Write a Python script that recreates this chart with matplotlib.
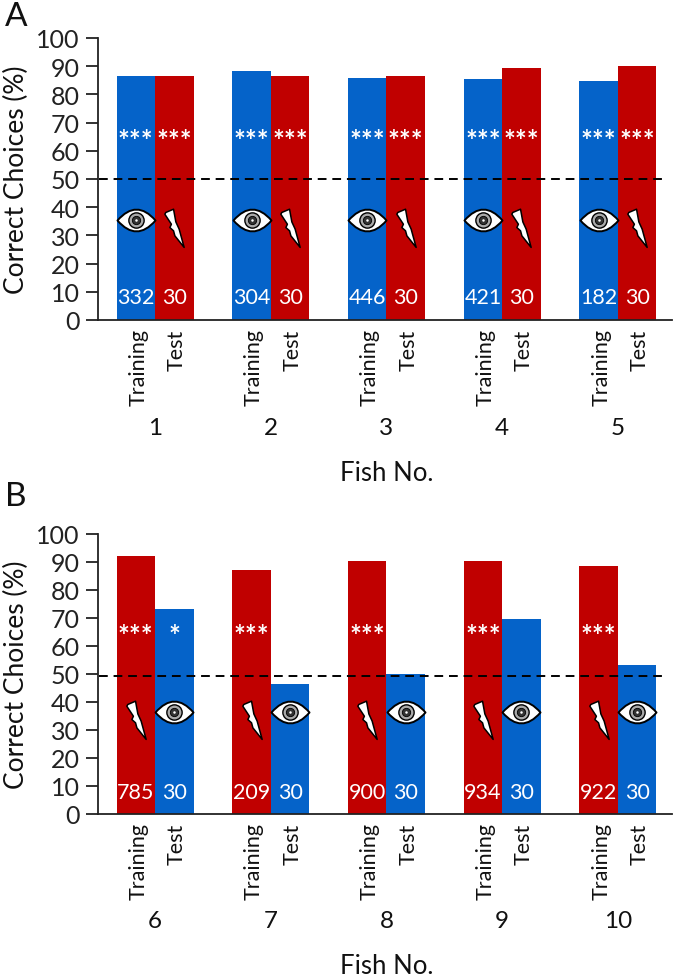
import matplotlib.pyplot as plt
from matplotlib.path import Path
from matplotlib.transforms import ScaledTranslation

fish_a = ['1', '2', '3', '4', '5']
training_a = [86.5, 88.2, 85.8, 85.5, 84.6]
test_a = [86.5, 86.5, 86.5, 89.3, 90.0]
n_training_a = ['332', '304', '446', '421', '182']
n_test_a = ['30', '30', '30', '30', '30']
stars_training_a = ['***', '***', '***', '***', '***']
stars_test_a = ['***', '***', '***', '***', '***']

fish_b = ['6', '7', '8', '9', '10']
training_b = [92.0, 87.0, 90.3, 90.5, 88.7]
test_b = [73.2, 46.5, 50.0, 69.8, 53.3]
n_training_b = ['785', '209', '900', '934', '922']
n_test_b = ['30', '30', '30', '30', '30']
stars_training_b = ['***', '***', '***', '***', '***']
stars_test_b = ['*', '', '', '', '']

BLUE = '#0563c9'
RED = '#c00000'
W, H = 676, 979

plt.rcParams['font.family'] = ['Lato', 'DejaVu Sans']

eye_path = Path(
    [(-1, 0), (0, 1.15), (1, 0), (0, -1.15), (-1, 0), (-1, 0)],
    [Path.MOVETO, Path.CURVE3, Path.CURVE3, Path.CURVE3, Path.CURVE3, Path.CLOSEPOLY])
bolt_path = Path(
    [(-0.45, 0.83), (-0.05, 1.0), (0.07, 0.34), (0.24, -0.03), (0.5, -0.98), (0.02, -0.38),
     (-0.05, -0.12), (-0.24, 0.05), (-0.16, 0.22), (-0.5, 0.74), (-0.45, 0.83)],
    closed=True)


def draw_panel(bottom_px, top_px, letter, letter_y, fish, blue_first, first, second,
               n_first, n_second, stars_first, stars_second, icon_y, dash_y):
    ax = fig.add_axes([98 / W, 1 - bottom_px / H, 577 / W, (bottom_px - top_px) / H])
    pos1 = [i * 3 + 0.5 for i in range(5)]
    pos2 = [i * 3 + 1.5 for i in range(5)]
    col1, col2 = (BLUE, RED) if blue_first else (RED, BLUE)
    ax.bar(pos1, first, width=1, color=col1)
    ax.bar(pos2, second, width=1, color=col2)
    ax.set_xlim(-0.48, 14.48)
    ax.set_ylim(0, 100)
    ax.set_yticks(range(0, 101, 10))
    ax.tick_params(axis='y', labelsize=18, length=9, width=1.3, pad=4, color='#222222', labelcolor='#222222')
    ax.set_xticks(pos1 + pos2)
    ax.set_xticklabels(['Training'] * 5 + ['Test'] * 5, rotation=90, fontsize=15.5, color='#111111')
    ax.tick_params(axis='x', length=0, pad=6)
    shift = ScaledTranslation(2.5 / 100, 0, fig.dpi_scale_trans)
    for label in ax.get_xticklabels():
        label.set_transform(label.get_transform() + shift)
    for side in ['top', 'right']:
        ax.spines[side].set_visible(False)
    for side in ['left', 'bottom']:
        ax.spines[side].set_linewidth(1.3)
        ax.spines[side].set_color('#222222')
    ax.spines['bottom'].set_bounds(-0.48, 14.4)
    ax.set_ylabel('Correct Choices (%)', fontsize=19, labelpad=5, color='#111111')
    ax.plot([-0.45, 14.27], [dash_y, dash_y], color='black', linestyle=(0, (4.5, 3)), linewidth=1.4, zorder=5)

    for i in range(5):
        ax.text(pos1[i], 8, n_first[i], color='white', ha='center', va='center', fontsize=15.5)
        ax.text(pos2[i], 8, n_second[i], color='white', ha='center', va='center', fontsize=15.5)
        ax.text(pos1[i], 63.5, stars_first[i], color='white', ha='center', va='center', fontsize=20, fontweight='bold')
        ax.text(pos2[i], 63.5, stars_second[i], color='white', ha='center', va='center', fontsize=20, fontweight='bold')
        ax.text(pos1[i] + 0.5, -38, fish[i], ha='center', va='center', fontsize=17.5, color='#111111')
    ax.text(7, -54, 'Fish No.', ha='center', va='center', fontsize=18.5, color='#111111')
    fig.text(5 / W, 1 - letter_y / H, letter, fontsize=24, va='center', color='#111111')

    eye_pos = pos1 if blue_first else pos2
    bolt_pos = pos2 if blue_first else pos1
    ax.plot(eye_pos, [icon_y] * 5, linestyle='none', marker=eye_path, ms=31.5, mfc='white', mec='black', mew=1.4, zorder=6)
    ax.plot(eye_pos, [icon_y] * 5, linestyle='none', marker='o', ms=11, mfc='#aaaaaa', mec='black', mew=1, zorder=7)
    ax.plot(eye_pos, [icon_y] * 5, linestyle='none', marker='o', ms=6, mfc='#333333', mec='black', mew=0.6, zorder=8)
    ax.plot(eye_pos, [icon_y] * 5, linestyle='none', marker='o', ms=1.8, mfc='white', mec='white', mew=0, zorder=9)
    ax.plot(bolt_pos, [icon_y - 3] * 5, linestyle='none', marker=bolt_path, ms=27.8, mfc='white', mec='black', mew=1.1, zorder=6)


fig = plt.figure(figsize=(W / 100, H / 100), dpi=100)
draw_panel(321, 39, 'A', 17, fish_a, True, training_a, test_a, n_training_a, n_test_a,
           stars_training_a, stars_test_a, 35.5, 50)
draw_panel(815, 535, 'B', 497, fish_b, False, training_b, test_b, n_training_b, n_test_b,
           stars_training_b, stars_test_b, 36.5, 49.3)
fig.savefig('out.png', dpi=100)
